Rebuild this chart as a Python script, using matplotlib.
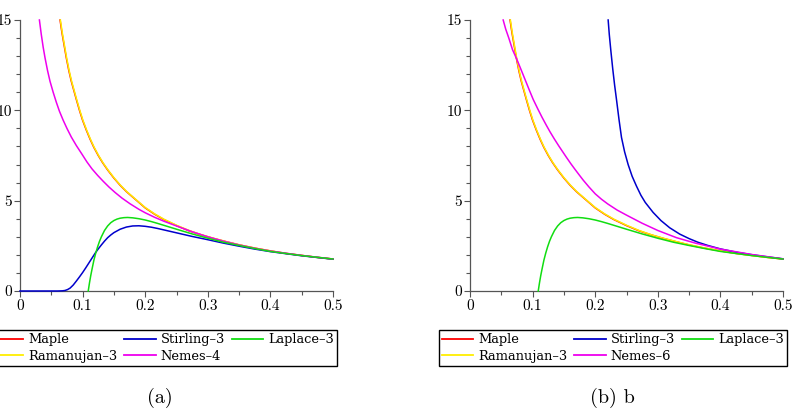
"""
Two-panel comparison of gamma-function approximations (Maple-style plot)
"""

import matplotlib.pyplot as plt
from matplotlib.ticker import MultipleLocator

# values
maple_x = [0.064, 0.067, 0.07, 0.074, 0.078, 0.082, 0.086, 0.09, 0.095, 0.1, 0.106,
           0.112, 0.118, 0.125, 0.132, 0.14, 0.15, 0.16, 0.17, 0.18, 0.19, 0.2,
           0.215, 0.23, 0.25, 0.27, 0.29, 0.31, 0.33, 0.35, 0.375, 0.4, 0.425,
           0.45, 0.475, 0.5]
maple_y = [15.0, 14.3, 13.7, 12.9, 12.2, 11.6, 11.1, 10.6, 10.0, 9.45, 8.9,
           8.4, 7.95, 7.5, 7.1, 6.7, 6.25, 5.85, 5.5, 5.2, 4.9, 4.6,
           4.25, 3.95, 3.62, 3.33, 3.1, 2.9, 2.72, 2.55, 2.37, 2.22, 2.08,
           1.97, 1.86, 1.77]

raman_x = [0.0645, 0.0675, 0.0705, 0.0745, 0.0785, 0.0825, 0.0865, 0.0905, 0.0955,
           0.1005, 0.1065, 0.1125, 0.1185, 0.1255, 0.1325, 0.1405, 0.1505, 0.1605,
           0.1705, 0.1805, 0.1905, 0.2, 0.215, 0.23, 0.25, 0.27, 0.29, 0.31, 0.33,
           0.35, 0.375, 0.4, 0.425, 0.45, 0.475, 0.5]
raman_y = [15.0, 14.3, 13.7, 12.9, 12.2, 11.6, 11.1, 10.6, 10.0, 9.45, 8.9,
           8.4, 7.95, 7.5, 7.1, 6.7, 6.25, 5.85, 5.5, 5.2, 4.9, 4.62,
           4.27, 3.97, 3.64, 3.35, 3.11, 2.91, 2.73, 2.56, 2.38, 2.22, 2.08,
           1.97, 1.86, 1.77]

laplace3_x = [0.109, 0.111, 0.113, 0.115, 0.118, 0.121, 0.124, 0.127, 0.13, 0.135,
              0.14, 0.145, 0.15, 0.155, 0.16, 0.166, 0.172, 0.18, 0.19, 0.2, 0.21,
              0.22, 0.235, 0.25, 0.275, 0.3, 0.325, 0.35, 0.375, 0.4, 0.45, 0.5]
laplace3_y = [0.0, 0.45, 0.85, 1.2, 1.7, 2.1, 2.45, 2.75, 3.0, 3.35,
              3.6, 3.78, 3.9, 3.98, 4.03, 4.06, 4.07, 4.05, 4.0, 3.93, 3.84,
              3.74, 3.58, 3.42, 3.16, 2.92, 2.7, 2.52, 2.35, 2.19, 1.96, 1.77]

# panel (a)
stirling3a_x = [0.0, 0.06, 0.068, 0.072, 0.076, 0.08, 0.085, 0.09, 0.095, 0.1, 0.105,
                0.11, 0.115, 0.12, 0.125, 0.13, 0.135, 0.14, 0.145, 0.15, 0.16, 0.17,
                0.18, 0.19, 0.2, 0.21, 0.22, 0.235, 0.25, 0.275, 0.3, 0.325, 0.35,
                0.375, 0.4, 0.45, 0.5]
stirling3a_y = [0.0, 0.0, 0.01, 0.03, 0.08, 0.16, 0.33, 0.55, 0.78, 1.02, 1.28,
                1.55, 1.82, 2.09, 2.33, 2.55, 2.76, 2.95, 3.1, 3.23, 3.42, 3.54,
                3.6, 3.61, 3.58, 3.53, 3.46, 3.34, 3.22, 3.02, 2.84, 2.65, 2.48,
                2.32, 2.18, 1.95, 1.76]

nemes4_x = [0.031, 0.034, 0.037, 0.04, 0.044, 0.048, 0.053, 0.058, 0.063, 0.069,
            0.075, 0.082, 0.09, 0.0985, 0.107, 0.115, 0.124, 0.133, 0.142, 0.152,
            0.163, 0.1757, 0.19, 0.2, 0.215, 0.23, 0.25, 0.275, 0.3, 0.325, 0.35,
            0.375, 0.4, 0.45, 0.5]
nemes4_y = [15.0, 14.2, 13.5, 12.9, 12.2, 11.6, 11.0, 10.45, 9.95, 9.45,
            9.0, 8.52, 8.05, 7.6, 7.14, 6.76, 6.4, 6.07, 5.76, 5.45,
            5.14, 4.83, 4.52, 4.33, 4.08, 3.86, 3.6, 3.28, 3.0, 2.76, 2.55,
            2.37, 2.21, 1.97, 1.77]

# panel (b)
stirling3b_x = [0.2207, 0.2225, 0.225, 0.228, 0.231, 0.234, 0.238, 0.242, 0.247, 0.2526,
                0.259, 0.266, 0.273, 0.28, 0.2925, 0.305, 0.319, 0.335, 0.35, 0.364,
                0.38, 0.4, 0.425, 0.45, 0.475, 0.5]
stirling3b_y = [15.0, 14.2, 13.3, 12.3, 11.4, 10.6, 9.5, 8.5, 7.7, 7.0,
                6.35, 5.8, 5.3, 4.9, 4.35, 3.9, 3.5, 3.15, 2.9, 2.7,
                2.52, 2.33, 2.15, 2.01, 1.89, 1.78]

nemes6_x = [0.053, 0.057, 0.062, 0.068, 0.0745, 0.081, 0.088, 0.095, 0.101, 0.108,
            0.115, 0.122, 0.128, 0.135, 0.142, 0.148, 0.154, 0.161, 0.168, 0.175,
            0.181, 0.19, 0.2, 0.21, 0.22, 0.235, 0.25, 0.275, 0.3, 0.33, 0.36,
            0.4, 0.45, 0.5]
nemes6_y = [15.0, 14.5, 14.0, 13.35, 12.85, 12.3, 11.7, 11.1, 10.6, 10.1,
            9.62, 9.17, 8.8, 8.4, 8.02, 7.71, 7.4, 7.05, 6.72, 6.4,
            6.13, 5.76, 5.38, 5.08, 4.82, 4.48, 4.2, 3.75, 3.35, 2.95, 2.65,
            2.32, 2.02, 1.78]

labels_a = ['Maple', 'Ramanujan\u20133', 'Stirling\u20133', 'Nemes\u20134', 'Laplace\u20133']
labels_b = ['Maple', 'Ramanujan\u20133', 'Stirling\u20133', 'Nemes\u20136', 'Laplace\u20133']

RED, YELLOW, BLUE, MAGENTA, GREEN = '#ff0000', '#ffee00', '#0000cc', '#ee00ee', '#11dd11'


def draw_panel(ax, stir, nemes, labels):
    handles = []
    # legend order: Maple, Ramanujan, Stirling, Nemes, Laplace
    series = [(maple_x, maple_y, RED), (raman_x, raman_y, YELLOW),
              (stir[0], stir[1], BLUE), (nemes[0], nemes[1], MAGENTA),
              (laplace3_x, laplace3_y, GREEN)]
    for (xs, ys, c), lab in zip(series, labels):
        h, = ax.plot(xs, ys, color=c, lw=1.1, label=lab, clip_on=False, zorder=3)
        handles.append(h)

    ax.set_xlim(0, 0.5)
    ax.set_ylim(0, 15)
    for s in ['top', 'right']:
        ax.spines[s].set_visible(False)
    for s in ['left', 'bottom']:
        ax.spines[s].set_color('#555555')
        ax.spines[s].set_linewidth(0.9)
    ax.xaxis.set_major_locator(MultipleLocator(0.1))
    ax.xaxis.set_minor_locator(MultipleLocator(0.05))
    ax.yaxis.set_major_locator(MultipleLocator(5))
    ax.yaxis.set_minor_locator(MultipleLocator(1))
    ax.tick_params(which='both', direction='out', color='#555555', width=0.8,
                   labelsize=11, pad=2)
    ax.tick_params(which='major', length=4)
    ax.tick_params(which='minor', length=3)
    ax.xaxis.set_major_formatter(plt.FuncFormatter(lambda v, p: f'{v:g}'))
    for t in ax.get_xticklabels() + ax.get_yticklabels():
        t.set_family('cmr10')
    return handles


fig = plt.figure(figsize=(7.96, 4.16), dpi=100)
ax_a = fig.add_axes([20 / 796, 1 - 291 / 416, 313 / 796, 271 / 416])
ax_b = fig.add_axes([470 / 796, 1 - 291 / 416, 313 / 796, 271 / 416])

h_a = draw_panel(ax_a, (stirling3a_x, stirling3a_y), (nemes4_x, nemes4_y), labels_a)
h_b = draw_panel(ax_b, (stirling3b_x, stirling3b_y), (nemes6_x, nemes6_y), labels_b)

for hs, cx in [(h_a, 163), (h_b, 613)]:
    leg = fig.legend(handles=hs, loc='upper center', bbox_to_anchor=(cx / 796, 1 - 330 / 416),
                     ncol=3, fancybox=False, edgecolor='black', framealpha=1,
                     prop={'family': 'DejaVu Serif', 'size': 9.4},
                     handlelength=2.4, handletextpad=0.4, columnspacing=0.5,
                     labelspacing=0.25, borderpad=0.25, borderaxespad=0)
    leg.get_frame().set_linewidth(1.0)
    for line in leg.get_lines():
        line.set_linewidth(1.3)

fig.text(160 / 796, 1 - 398 / 416, '(a)', ha='center', va='center', family='cmr10', fontsize=14.5)
fig.text(612 / 796, 1 - 398 / 416, '(b) b', ha='center', va='center', family='cmr10', fontsize=14.5)

fig.savefig('out.png', dpi=100)
